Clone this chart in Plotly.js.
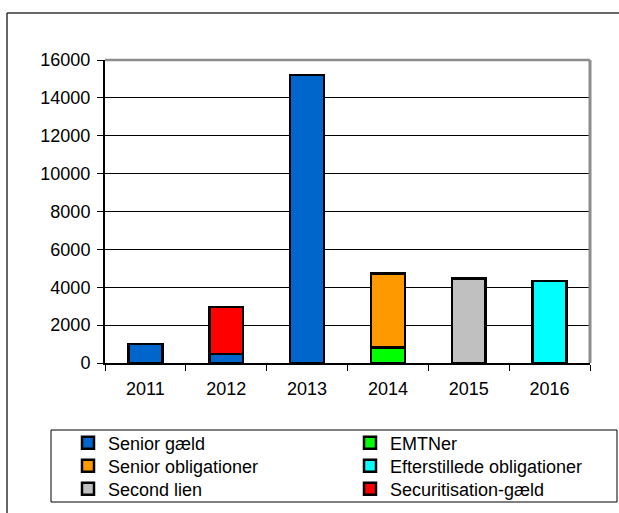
<!DOCTYPE html>
<html>
<head>
<meta charset="utf-8">
<script src="https://cdn.plot.ly/plotly-3.0.1.min.js"></script>
<style>html,body{margin:0;padding:0;background:#fff;}#chart{width:619px;height:513px;}</style>
</head>
<body>
<div id="chart"></div>
<script>
// ---- data ----
var years = ["2011", "2012", "2013", "2014", "2015", "2016"];
var seniorGaeld = [1000, 470, 15200, 0, 0, 0];
var emtner = [0, 0, 0, 820, 0, 0];
var seniorObligationer = [0, 0, 0, 3900, 0, 0];
var efterstillede = [0, 0, 0, 0, 0, 4320];
var secondLien = [0, 0, 0, 0, 4450, 0];
var securitisation = [0, 2490, 0, 0, 0, 0];
var seriesNames = ["Senior gæld", "EMTNer", "Senior obligationer", "Efterstillede obligationer", "Second lien", "Securitisation-gæld"];
var yTicks = [0, 2000, 4000, 6000, 8000, 10000, 12000, 14000, 16000];

// ---- styles ----
var colors = ["#0066CC", "#00FF00", "#FF9900", "#00FFFF", "#C0C0C0", "#FF0000"];
var seriesValues = [seniorGaeld, emtner, seniorObligationer, efterstillede, secondLien, securitisation];
var legendIds = ["legend", "legend2", "legend3", "legend4", "legend5", "legend6"];

var W = 619, H = 513;
var L = 105, R = 590, T = 60, B = 363;
function px2x(p) { return (p - L) / (R - L); }
function py2y(p) { return (B - p) / (B - T); }

var traces = seriesValues.map(function (vals, i) {
  return {
    type: "bar",
    name: seriesNames[i],
    x: years,
    y: vals,
    legend: legendIds[i],
    marker: { color: colors[i], line: { color: "#000", width: 2.5 } },
    hoverinfo: "skip"
  };
});

// legend entries laid out in 2 columns x 3 rows
var colX = [68, 350];
var rowY = [443, 466, 489];

var layout = {
  width: W, height: H,
  margin: { l: L, r: W - R, t: T, b: H - B, pad: 0, autoexpand: false },
  paper_bgcolor: "#fff", plot_bgcolor: "#fff",
  barmode: "stack",
  bargap: 0.58,
  font: { family: "Liberation Sans, Arial, sans-serif", size: 18, color: "#000" },
  showlegend: true,
  xaxis: {
    type: "category",
    showgrid: false,
    showline: true, linecolor: "#000", linewidth: 1.5,
    ticks: "outside", tickson: "boundaries", ticklen: 6, tickcolor: "#000", tickwidth: 1,
    ticklabelstandoff: 9,
    tickangle: 0,
    automargin: false,
    zeroline: false,
    fixedrange: true
  },
  yaxis: {
    range: [0, 16000],
    tickvals: yTicks,
    ticktext: yTicks.map(String),
    showgrid: true, gridcolor: "#000", gridwidth: 1,
    showline: true, linecolor: "#000", linewidth: 2,
    ticks: "outside", ticklen: 6, tickcolor: "#000", tickwidth: 1,
    ticklabelstandoff: 3,
    automargin: false,
    zeroline: false,
    fixedrange: true
  },
  shapes: [
    // outer frame (top and left edges)
    { type: "line", xref: "paper", yref: "paper", x0: px2x(7), x1: px2x(640), y0: py2y(13), y1: py2y(13), line: { color: "#333", width: 1.5 } },
    { type: "line", xref: "paper", yref: "paper", x0: px2x(7), x1: px2x(7), y0: py2y(13), y1: py2y(540), line: { color: "#333", width: 1.5 } },
    // plot area grey border top and right
    { type: "line", xref: "paper", yref: "paper", x0: 0, x1: 1, y0: 1, y1: 1, line: { color: "#8c8c8c", width: 2.5 } },
    { type: "line", xref: "paper", yref: "paper", x0: 1, x1: 1, y0: 0, y1: 1, line: { color: "#8c8c8c", width: 3 } },
    // legend box
    { type: "rect", xref: "paper", yref: "paper", x0: px2x(51), x1: px2x(617), y0: py2y(502), y1: py2y(430), line: { color: "#000", width: 1 } }
  ]
};

legendIds.forEach(function (id, i) {
  layout[id] = {
    orientation: "v",
    xref: "container", yref: "container",
    x: colX[i % 2] / W, y: 1 - rowY[Math.floor(i / 2)] / H,
    xanchor: "left", yanchor: "middle",
    font: { size: 18, color: "#000" },
    bgcolor: "rgba(0,0,0,0)", borderwidth: 0
  };
});

Plotly.newPlot("chart", traces, layout, { displayModeBar: false, staticPlot: true });
</script>
</body>
</html>
